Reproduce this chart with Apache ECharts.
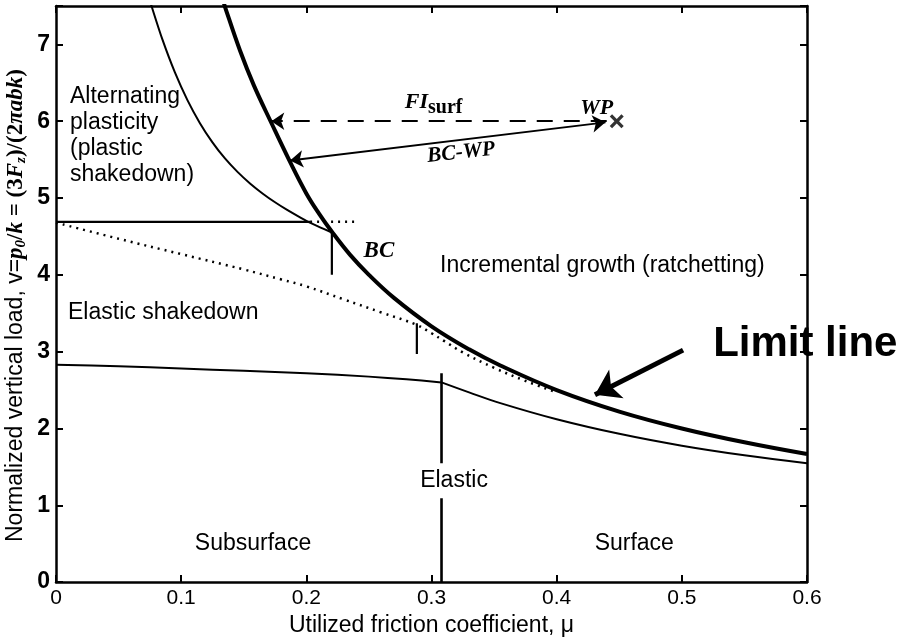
<!DOCTYPE html>
<html>
<head>
<meta charset="utf-8">
<script src="https://cdn.jsdelivr.net/npm/echarts@6/dist/echarts.min.js"></script>
<style>
  html, body { margin: 0; padding: 0; background: #fff; }
  #chart { width: 899px; height: 642px; }
</style>
</head>
<body>
<div id="chart"></div>
<script>
// Shakedown map: normalized vertical load vs utilized friction coefficient.

// Axis ticks
const xTicks = [0, 0.1, 0.2, 0.3, 0.4, 0.5, 0.6];
const yTicks = [0, 1, 2, 3, 4, 5, 6, 7];

// Surface shakedown limit (thick "limit line", through BC)
const limitLine = [
  [0.134, 7.55], [0.135, 7.49], [0.147, 6.92], [0.158, 6.47], [0.172, 5.98],
  [0.187, 5.47], [0.2, 5.06], [0.21, 4.8], [0.22, 4.57], [0.235, 4.26],
  [0.25, 4.0], [0.27, 3.7], [0.3, 3.33], [0.33, 3.03], [0.355, 2.82],
  [0.4, 2.5], [0.45, 2.22], [0.5, 2.0], [0.55, 1.82], [0.6, 1.667]
];

// Alternating plasticity boundary (thin curve meeting the limit line at BC)
const alternatingBoundary = [
  [0.0745, 7.6], [0.0765, 7.49], [0.085, 7.065], [0.095, 6.635], [0.105, 6.275],
  [0.115, 5.975], [0.125, 5.725], [0.135, 5.515], [0.145, 5.34], [0.155, 5.19],
  [0.165, 5.06], [0.175, 4.945], [0.185, 4.842], [0.195, 4.749], [0.205, 4.663],
  [0.22, 4.555]
];

// Elastic shakedown limit (dotted)
const shakedownDotted = [
  [0, 4.68], [0.05, 4.47], [0.1, 4.27], [0.15, 4.07], [0.18, 3.94],
  [0.2, 3.85], [0.23, 3.68], [0.26, 3.51], [0.288, 3.35], [0.3, 3.24],
  [0.31, 3.14], [0.325, 2.99], [0.35, 2.79], [0.375, 2.62], [0.4, 2.47]
];

// Elastic limit: subsurface branch and surface branch
const elasticSubsurface = [
  [0, 2.83], [0.05, 2.81], [0.1, 2.78], [0.15, 2.75], [0.2, 2.72],
  [0.25, 2.675], [0.28, 2.64], [0.308, 2.6]
];
const elasticSurface = [
  [0.308, 2.6], [0.33, 2.47], [0.355, 2.33], [0.4, 2.12], [0.45, 1.93],
  [0.5, 1.775], [0.55, 1.65], [0.6, 1.547]
];

// Straight reference segments
const plasticLimitSolid = [[0, 4.69], [0.203, 4.69]];
const plasticLimitDotted = [[0.203, 4.69], [0.24, 4.69]];
const bcTick = [[0.2204, 4.0], [0.2204, 4.56]];
const shakedownTick = [[0.2883, 2.97], [0.2883, 3.37]];
const elasticDivider = [[0.308, 0], [0.308, 2.72]];

// Working point and the distances measured from it
const workingPoint = [[0.448, 6.0]];
const fiSurfArrow = [[0.44, 6.0], [0.172, 6.0]];
const bcWpArrow = [[0.187, 5.49], [0.439, 5.985]];
const limitPointer = [[0.501, 3.02], [0.4306, 2.44]];

const SANS = '"Liberation Sans", Arial, Helvetica, sans-serif';
const SERIF = '"Liberation Serif", "Times New Roman", serif';

const chart = echarts.init(document.getElementById('chart'), null, { renderer: 'canvas' });

function curve(data, width, type, smooth) {
  return {
    type: 'line', data: data, symbol: 'none', showSymbol: false,
    smooth: smooth || false, silent: true, animation: false, z: 3,
    lineStyle: { color: '#000', width: width, type: type || 'solid', cap: 'butt', join: 'round' }
  };
}

function arrow(coords, width, dash, symbols, size) {
  return {
    type: 'lines', coordinateSystem: 'cartesian2d', xAxisIndex: 0, yAxisIndex: 0,
    symbol: symbols, symbolSize: size, silent: true, animation: false, z: 4,
    lineStyle: { color: '#000', width: width, type: dash, opacity: 1, curveness: 0 },
    data: [{ coords: coords }]
  };
}

const frame = { onZero: false, lineStyle: { color: '#000', width: 2.5 } };
const ticks = { inside: true, length: 7, lineStyle: { color: '#000', width: 2 } };

const option = {
  backgroundColor: '#fff',
  animation: false,
  grid: { left: 56, right: 92, top: 6, bottom: 54, containLabel: false },
  xAxis: [
    {
      type: 'value', min: xTicks[0], max: xTicks[xTicks.length - 1], interval: 0.1,
      position: 'bottom', axisLine: frame, axisTick: ticks, splitLine: { show: false },
      axisLabel: {
        color: '#000', fontSize: 21, fontFamily: SANS, margin: 6,
        formatter: v => (v === 0 ? '0' : v.toFixed(1))
      },
      name: 'Utilized friction coefficient, \u03bc', nameLocation: 'middle', nameGap: 29,
      nameTextStyle: { color: '#000', fontSize: 23, fontFamily: SANS }
    },
    {
      type: 'value', min: xTicks[0], max: xTicks[xTicks.length - 1], interval: 0.1,
      position: 'top', axisLine: frame, axisTick: ticks, splitLine: { show: false },
      axisLabel: { show: false }
    }
  ],
  yAxis: [
    {
      type: 'value', min: yTicks[0], max: 7.5, interval: 1,
      position: 'left', axisLine: frame, axisTick: ticks, splitLine: { show: false },
      axisLabel: {
        color: '#000', fontSize: 23, fontWeight: 'bold', fontFamily: SANS, margin: 6,
        formatter: v => (yTicks.indexOf(v) >= 0 ? String(v) : '')
      }
    },
    {
      type: 'value', min: yTicks[0], max: 7.5, interval: 1,
      position: 'right', axisLine: frame, axisTick: ticks, splitLine: { show: false },
      axisLabel: { show: false }
    }
  ],
  series: [
    curve(limitLine, 4, 'solid', 0.4),
    curve(alternatingBoundary, 2, 'solid', 0.3),
    curve(shakedownDotted, 2.5, [2, 5], 0.4),
    curve(elasticSubsurface, 2, 'solid', 0.3),
    curve(elasticSurface, 2, 'solid', 0.4),
    curve(plasticLimitSolid, 2.2),
    curve(plasticLimitDotted, 2.5, [2, 5]),
    curve(bcTick, 2.2),
    curve(shakedownTick, 2.2),
    curve(elasticDivider, 2.6),
    arrow(fiSurfArrow, 2, [16, 11], ['none', 'arrow'], 13),
    arrow(bcWpArrow, 2, 'solid', ['arrow', 'arrow'], 13),
    arrow(limitPointer, 5, 'solid', ['none', 'arrow'], 24),
    {
      type: 'scatter', data: workingPoint, silent: true, z: 5,
      symbol: 'path://M0,2 L2,0 L6,4 L10,0 L12,2 L8,6 L12,10 L10,12 L6,8 L2,12 L0,10 L4,6 Z',
      symbolSize: 14, itemStyle: { color: '#000' }
    }
  ]
};

chart.setOption(option);

// Annotations placed in data coordinates
const at = (x, y) => chart.convertToPixel({ gridIndex: 0 }, [x, y]);

function label(x, y, text, font, align, extra) {
  const p = at(x, y);
  return {
    type: 'text', x: p[0], y: p[1], z: 10, silent: true,
    style: Object.assign({
      text: text, font: font, fill: '#000',
      textAlign: align || 'center', textVerticalAlign: 'middle'
    }, extra || {})
  };
}

const regionFont = '23px ' + SANS;
const italicFont = 'italic bold 22px ' + SERIF;

const yNamePos = at(0, 3.6);

const graphics = [
  label(0.0112, 5.81, 'Alternating\nplasticity\n(plastic\nshakedown)', regionFont, 'left', { lineHeight: 26 }),
  label(0.0096, 3.51, 'Elastic shakedown', regionFont, 'left'),
  label(0.3068, 4.12, 'Incremental growth (ratchetting)', regionFont, 'left'),
  label(0.1574, 0.5, 'Subsurface', regionFont, 'center'),
  label(0.462, 0.5, 'Surface', regionFont, 'center'),
  label(0.318, 1.32, 'Elastic', regionFont, 'center', { backgroundColor: '#fff', padding: [6, 2, 6, 2] }),
  label(0.258, 4.31, 'BC', 'italic bold 23px ' + SERIF, 'center'),
  label(0.432, 6.17, 'WP', italicFont, 'center'),
  label(0.288, 6.24, 'FI', italicFont, 'center'),
  label(0.2972, 6.175, 'surf', 'bold 20px ' + SERIF, 'left'),
  label(0.525, 3.10, 'Limit line', 'bold 42px ' + SANS, 'left'),
  Object.assign(label(0.3236, 5.59, 'BC-WP', 'italic bold 21.5px ' + SERIF, 'center'), { rotation: 0.11 }),
  {
    type: 'text', x: 16, y: yNamePos[1], rotation: Math.PI / 2, z: 10, silent: true,
    style: {
      text: '{s|Normalized vertical load, v=}{i|p}{sub|0}{b|/}{i|k}{b| = (3}{i|F}{sub|z}{b|)/(2}{i|\u03c0abk}{b|)}',
      textAlign: 'center', textVerticalAlign: 'middle', fill: '#000',
      rich: {
        s: { fontSize: 23, fontFamily: SANS, lineHeight: 26, fill: '#000' },
        i: { fontSize: 23, fontFamily: SERIF, fontStyle: 'italic', fontWeight: 'bold', lineHeight: 26, fill: '#000' },
        b: { fontSize: 23, fontFamily: SERIF, fontWeight: 'bold', lineHeight: 26, fill: '#000' },
        sub: { fontSize: 15, fontFamily: SERIF, fontStyle: 'italic', fontWeight: 'bold', lineHeight: 15,
               padding: [11, 0, 0, 0], verticalAlign: 'top', fill: '#000' }
      }
    }
  }
];

chart.setOption({ graphic: graphics });
</script>
</body>
</html>
